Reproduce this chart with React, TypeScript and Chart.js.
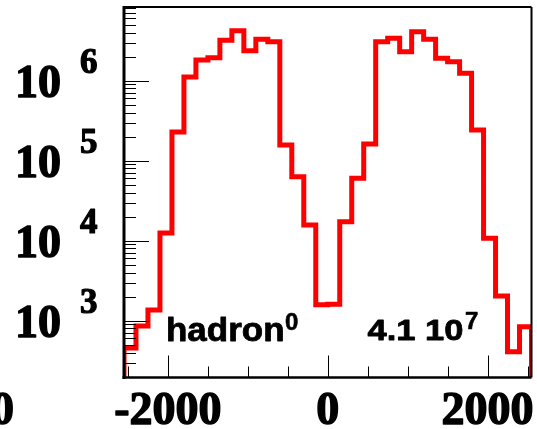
import React, { useEffect, useRef } from 'react';
import { Chart, registerables } from 'chart.js';

Chart.register(...registerables);

// ---- data ----
const BIN_LOW = -2550;
const BIN_WIDTH = 150;
const counts = [
  456, 859, 1361, 12480, 228600, 1110000, 1810000, 1940000, 3200000, 4220000,
  2370000, 3290000, 3070000, 157000, 63100, 15700, 1580, 1600, 17300, 60300,
  161800, 3070000, 3390000, 2300000, 4100000, 3290000, 1910000, 1730000, 1240000, 242000,
  10700, 2040, 410, 841,
];
const X_MIN = -2550;
const X_MAX = 2550;
const Y_MIN = 195;
const Y_MAX = 8.34e6;
const FLOOR = 50;

const xMajorTicks = [-2000, 0, 2000];
const xMajorLabels = ['-2000', '0', '2000'];
const xMinorTicks = [-2500, -1500, -1000, -500, 500, 1000, 1500, 2500];
const yDecades = [3, 4, 5, 6];
const yMinorDecades = [2, 3, 4, 5, 6];
const yMinorMultipliers = [2, 3, 4, 5, 6, 7, 8, 9];
const yLabelBase = '10';
const strayLabel = '0';
const titleText = 'hadron';
const titleSup = '0';
const entriesText = '4.1 10';
const entriesSup = '7';

const SERIF = '"Liberation Serif", "Times New Roman", serif';
const SANS = '"Liberation Sans", Arial, sans-serif';

function boldText(ctx: CanvasRenderingContext2D, s: string, x: number, y: number, w: number, sx = 1) {
  ctx.save();
  ctx.translate(x, y);
  ctx.scale(sx, 1);
  ctx.fillText(s, 0, 0);
  ctx.lineWidth = w;
  ctx.lineJoin = 'round';
  ctx.strokeText(s, 0, 0);
  ctx.restore();
}

const framePlugin = {
  id: 'rootFrame',
  afterDatasetsDraw(chart: any) {
    const ctx: CanvasRenderingContext2D = chart.ctx;
    const { left, right, top, bottom } = chart.chartArea;
    const xs = chart.scales.x;
    const ys = chart.scales.y;
    ctx.save();
    ctx.strokeStyle = '#000';
    ctx.fillStyle = '#000';

    // frame
    ctx.lineWidth = 2;
    ctx.beginPath();
    ctx.moveTo(left, top);
    ctx.lineTo(right, top);
    ctx.moveTo(right, top);
    ctx.lineTo(right, bottom);
    ctx.stroke();
    ctx.lineWidth = 3;
    ctx.beginPath();
    ctx.moveTo(left, top - 1);
    ctx.lineTo(left, bottom + 1.5);
    ctx.stroke();
    ctx.lineWidth = 2.5;
    ctx.beginPath();
    ctx.moveTo(left - 1.5, bottom);
    ctx.lineTo(right, bottom);
    ctx.stroke();

    // y ticks (inside)
    ctx.lineWidth = 1;
    ctx.beginPath();
    for (const d of yMinorDecades) {
      for (const m of yMinorMultipliers) {
        const v = m * Math.pow(10, d);
        if (v < Y_MIN || v > Y_MAX) continue;
        const y = Math.round(ys.getPixelForValue(v)) + 0.5;
        ctx.moveTo(left, y);
        ctx.lineTo(left + 12, y);
      }
    }
    for (const d of yDecades) {
      const y = Math.round(ys.getPixelForValue(Math.pow(10, d))) + 0.5;
      ctx.moveTo(left, y);
      ctx.lineTo(left + 25, y);
    }
    // x ticks (inside)
    for (const v of xMinorTicks) {
      const x = Math.round(xs.getPixelForValue(v)) + 0.5;
      ctx.moveTo(x, bottom);
      ctx.lineTo(x, bottom - 11);
    }
    for (const v of xMajorTicks) {
      const x = Math.round(xs.getPixelForValue(v)) + 0.5;
      ctx.moveTo(x, bottom);
      ctx.lineTo(x, bottom - 22);
    }
    ctx.stroke();

    // y labels: 10^d
    ctx.textBaseline = 'alphabetic';
    for (const d of yDecades) {
      const y = ys.getPixelForValue(Math.pow(10, d));
      ctx.font = `bold 46px ${SERIF}`;
      ctx.textAlign = 'right';
      boldText(ctx, yLabelBase, 61, y + 16, 1.4);
      ctx.font = `bold 35px ${SERIF}`;
      ctx.textAlign = 'left';
      boldText(ctx, String(d), 80, y - 7.5, 1.2);
    }

    // x labels
    ctx.font = `bold 46px ${SERIF}`;
    ctx.textAlign = 'center';
    xMajorTicks.forEach((v, i) => {
      boldText(ctx, xMajorLabels[i], xs.getPixelForValue(v), 424, 1.4);
    });
    ctx.textAlign = 'right';
    boldText(ctx, strayLabel, 14, 424, 1.4);

    // statistics texts
    ctx.textAlign = 'left';
    ctx.font = `bold 33px ${SANS}`;
    boldText(ctx, titleText, 166, 341, 0.8, 1.06);
    ctx.font = `bold 24px ${SANS}`;
    boldText(ctx, titleSup, 285, 329.5, 0.6);
    ctx.font = `bold 30px ${SANS}`;
    boldText(ctx, entriesText, 367.5, 340, 0.8, 1.15);
    ctx.font = `bold 24px ${SANS}`;
    boldText(ctx, entriesSup, 465, 328.5, 0.6);

    ctx.restore();
  },
};

export default function App() {
  const ref = useRef<HTMLCanvasElement>(null);
  useEffect(() => {
    document.body.style.margin = '0';
    document.body.style.background = '#fff';
    const canvas = ref.current!;
    const pts: { x: number; y: number }[] = [{ x: BIN_LOW, y: FLOOR }];
    counts.forEach((c, i) => pts.push({ x: BIN_LOW + i * BIN_WIDTH, y: c }));
    const endX = BIN_LOW + counts.length * BIN_WIDTH;
    pts.push({ x: endX, y: counts[counts.length - 1] });
    pts.push({ x: endX, y: FLOOR });

    const chart = new Chart(canvas, {
      type: 'line',
      data: {
        datasets: [
          {
            data: pts,
            borderColor: '#ff0000',
            borderWidth: 5,
            stepped: true,
            pointRadius: 0,
            fill: false,
            borderJoinStyle: 'miter',
            borderCapStyle: 'butt',
          } as any,
        ],
      },
      options: {
        responsive: false,
        animation: false,
        events: [],
        layout: { padding: { top: 7, right: 5.5, left: 0, bottom: 0 } },
        plugins: { legend: { display: false }, tooltip: { enabled: false } },
        scales: {
          x: {
            type: 'linear',
            min: X_MIN,
            max: X_MAX,
            grid: { display: false },
            border: { display: false },
            ticks: { display: false },
            afterFit: (s: any) => { s.height = 51.5; },
          },
          y: {
            type: 'logarithmic',
            min: Y_MIN,
            max: Y_MAX,
            grid: { display: false },
            border: { display: false },
            ticks: { display: false },
            afterFit: (s: any) => { s.width = 124; },
          },
        },
      },
      plugins: [framePlugin],
    });
    return () => chart.destroy();
  }, []);
  return <canvas ref={ref} width={537} height={429} style={{ display: 'block' }} />;
}
